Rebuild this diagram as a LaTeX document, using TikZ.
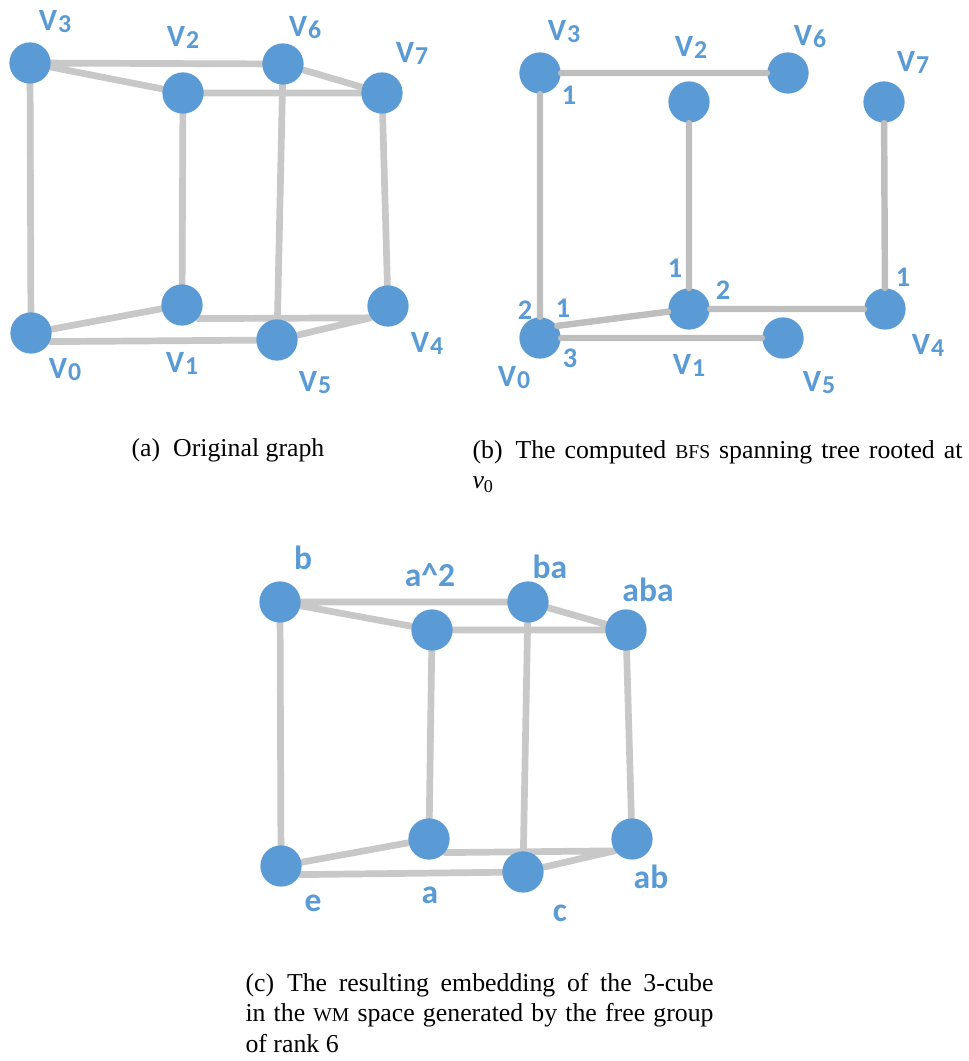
\documentclass[tikz,border=0pt]{standalone}
\usepackage{fontspec}
\setmainfont{Liberation Serif}
\newfontfamily\graphfont{Carlito}
\usepackage{tikz}
\usetikzlibrary{positioning,backgrounds}
\definecolor{vblue}{HTML}{5B9BD5}
\definecolor{egray}{HTML}{C8C8C8}
\definecolor{tgray}{HTML}{BEBEBE}
\newcommand{\vname}[1]{V\kern0.3pt\raisebox{-0.8pt}{\fontsize{10pt}{10pt}\selectfont #1}}
\newcommand{\fsc}[1]{{\fontsize{7.6pt}{9pt}\selectfont #1}}
\tikzset{
  vtx/.style={circle,fill=vblue,minimum size=16pt,inner sep=0pt},
  cubeline/.style={egray,line width=2.6pt,line cap=round},
  treeline/.style={tgray,line width=2.5pt,line cap=round},
  vlab/.style={text=vblue,font=\graphfont\bfseries\fontsize{12pt}{13pt}\selectfont,inner sep=0pt},
  glab/.style={vlab,font=\graphfont\bfseries\fontsize{13pt}{14pt}\selectfont},
  numlab/.style={vlab,font=\graphfont\bfseries\fontsize{11pt}{12pt}\selectfont},
  captext/.style={font=\fontsize{10pt}{12pt}\selectfont,inner sep=0pt}
}

\begin{document}
\begin{tikzpicture}[x=0.3876pt,y=-0.3876pt]
\useasboundingbox (0,0) rectangle (968,1061);

% (a) original graph
\node[vtx] (a3) at (30,63) {};
\node[vtx] (a2) at (183,93) {};
\node[vtx] (a6) at (283,64) {};
\node[vtx] (a7) at (382,93) {};
\node[vtx] (a0) at (31,333) {};
\node[vtx] (a1) at (182,305) {};
\node[vtx] (a5) at (277,340) {};
\node[vtx] (a4) at (388,306) {};
\begin{scope}[on background layer]
\draw[cubeline] (a3) -- (a6) -- (a7) -- (a2) -- (a3) -- (a0);
\draw[cubeline] (a2) -- (a1) (a6) -- (a5) (a7) -- (a4);
\draw[cubeline] (a0) -- (a1) (a1.-40) -- (a4.214) (a4.214) -- (a5) (a5) -- (a0.-24);
\end{scope}
\node[vlab] (la3) at (55,22) {\vname{3}};
\node[vlab] (la2) at (183,37) {\vname{2}};
\node[vlab] (la6) at (305,28) {\vname{6}};
\node[vlab] (la7) at (412,53) {\vname{7}};
\node[vlab] (la0) at (65,370) {\vname{0}};
\node[vlab] (la1) at (182,363) {\vname{1}};
\node[vlab] (la5) at (315,383) {\vname{5}};
\node[vlab] (la4) at (427,343) {\vname{4}};

% (b) bfs tree
\node[vtx] (b3) at (540,73) {};
\node[vtx] (b6) at (788,73) {};
\node[vtx] (b2) at (689,102) {};
\node[vtx] (b7) at (884,102) {};
\node[vtx] (b0) at (540,338) {};
\node[vtx] (b1) at (689,309) {};
\node[vtx] (b5) at (783,338) {};
\node[vtx] (b4) at (885,309) {};
\draw[treeline] (b3) -- (b6) (b3) -- (b0) (b2) -- (b1) (b7) -- (b4);
\draw[treeline] (b0.35) -- (b1) (b1) -- (b4) (b0) -- (b5);
\node[vlab] (lb3) at (564,32) {\vname{3}};
\node[vlab] (lb2) at (691,47) {\vname{2}};
\node[vlab] (lb6) at (810,37) {\vname{6}};
\node[vlab] (lb7) at (913,62) {\vname{7}};
\node[vlab] (lb0) at (514,378) {\vname{0}};
\node[vlab] (lb1) at (689,365) {\vname{1}};
\node[vlab] (lb5) at (819,383) {\vname{5}};
\node[vlab] (lb4) at (928,345) {\vname{4}};
\node[numlab] (p31) at (569,95) {1};
\node[numlab] (p12) at (675,268) {1};
\node[numlab] (p14) at (723,290) {2};
\node[numlab] (p47) at (903,277) {1};
\node[numlab] (p03) at (525,310) {2};
\node[numlab] (p01) at (563,308) {1};
\node[numlab] (p05) at (570,358) {3};

% (c) embedding
\node[vtx] (cb) at (280,602) {};
\node[vtx] (caa) at (432,630) {};
\node[vtx] (cba) at (528,602) {};
\node[vtx] (caba) at (626,630) {};
\node[vtx] (ce) at (281,866) {};
\node[vtx] (ca) at (429,839) {};
\node[vtx] (cc) at (523,872) {};
\node[vtx] (cab) at (632,839) {};
\begin{scope}[on background layer]
\draw[cubeline] (cb) -- (cba) -- (caba) -- (caa) -- (cb) -- (ce);
\draw[cubeline] (caa) -- (ca) (cba) -- (cc) (caba) -- (cab);
\draw[cubeline] (ce) -- (ca) (ca.-40) -- (cab.214) (cab.214) -- (cc) (cc) -- (ce.-24);
\end{scope}
\node[glab] (lcb) at (303,558) {b};
\node[glab] (lcaa) at (430,575) {a\textasciicircum 2};
\node[glab] (lcba) at (550,567) {ba};
\node[glab] (lcaba) at (648,590) {aba};
\node[glab] (lce) at (313,903) {e};
\node[glab] (lca) at (430,895) {a};
\node[glab] (lcc) at (560,913) {c};
\node[glab] (lcab) at (651,877) {ab};

% captions
\node[captext,anchor=base] (capa) at (228,456) {(a)\enspace Original graph};
\node[captext,text width=189.9pt,align=justify,anchor=base west] (capb) at (472,458)
  {(b)\enspace The computed \fsc{BFS} spanning tree rooted at\linebreak \textit{v}\textsubscript{0}};
\node[captext,text width=181.4pt,align=justify,anchor=base west] (capc) at (245,991)
  {(c)\enspace The resulting embedding of the 3-cube\linebreak in the \fsc{WM} space generated by the free group\linebreak of rank 6};
\end{tikzpicture}
\end{document}
